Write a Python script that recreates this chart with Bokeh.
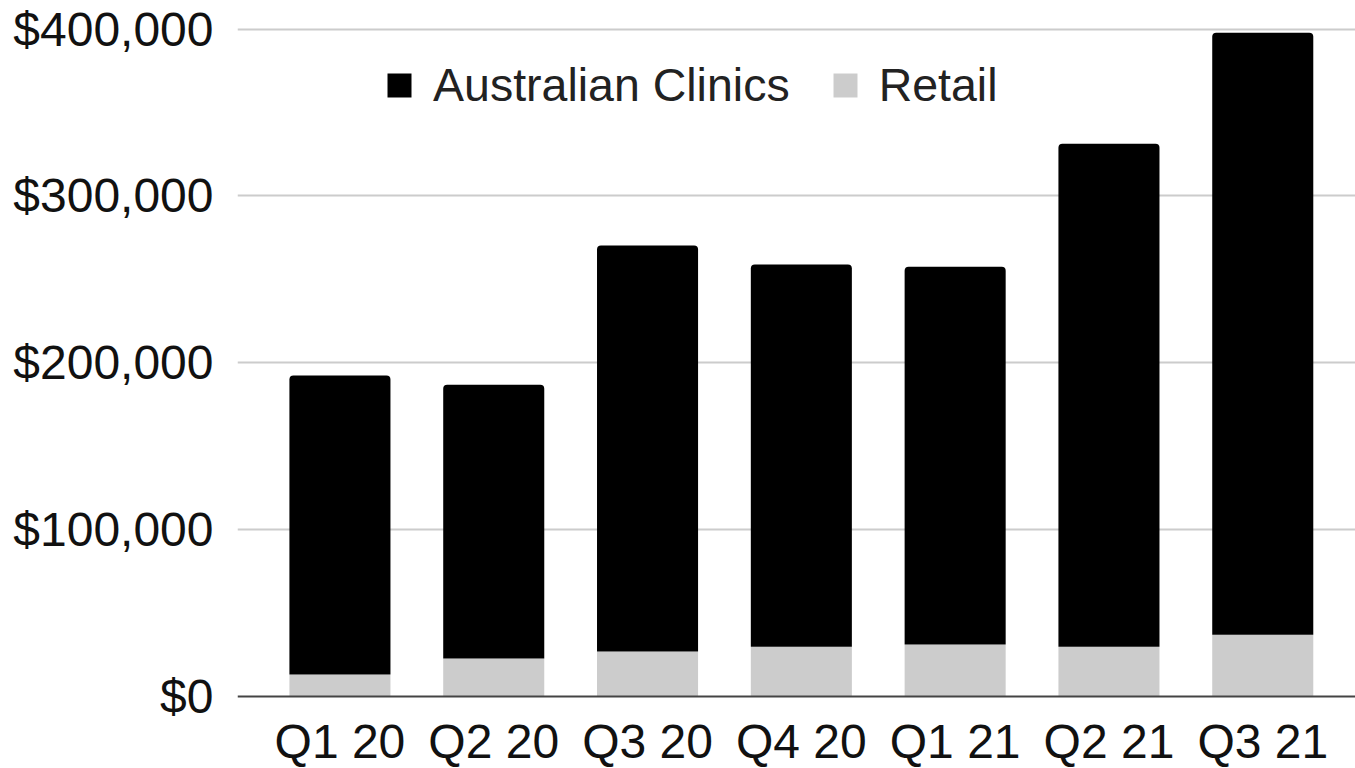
from bokeh.plotting import figure
from bokeh.models import Range1d, FixedTicker, NumeralTickFormatter, Legend, LegendItem, ColumnDataSource
from bokeh.embed import file_html
from bokeh.resources import INLINE

quarters = ["Q1 20", "Q2 20", "Q3 20", "Q4 20", "Q1 21", "Q2 21", "Q3 21"]
retail = [13200, 22800, 27000, 29800, 31200, 29800, 37000]
clinics = [179200, 164000, 243300, 229100, 226300, 301400, 360700]
y_ticks = [0, 100000, 200000, 300000, 400000]

xs = list(range(len(quarters)))
totals = [r + c for r, c in zip(retail, clinics)]
src = ColumnDataSource(dict(x=xs, retail=retail, clinics=clinics, total=totals))

FONT = "Liberation Sans"
TXT = "#111111"

W, H = 1355, 768
LEFT = 237
ZERO_PX = 696          # screen row of y = 0
TOP_PX = 28.5          # screen row of y = 400,000
k = (ZERO_PX - TOP_PX) / 400000.0
y_end = ZERO_PX / k
y_start = -(H - ZERO_PX) / k

p = figure(width=W, height=H, output_backend="svg", toolbar_location=None,
           x_range=Range1d(-0.666, 6.603), y_range=Range1d(y_start, y_end),
           min_border_left=LEFT, min_border_right=0, min_border_top=0, min_border_bottom=0)
p.outline_line_color = None

r_retail = p.vbar(x="x", bottom=0, top="retail", width=0.657, source=src,
                  fill_color="#cccccc", line_color=None)
r_clin = p.vbar(x="x", bottom="retail", top="total", width=0.657, source=src,
                fill_color="#000000", line_color=None, border_radius=(4, 4, 0, 0))

p.xaxis.fixed_location = 0
p.xaxis.ticker = FixedTicker(ticks=xs)
p.xaxis.major_label_overrides = {i: q for i, q in enumerate(quarters)}
p.xaxis.major_tick_line_color = None
p.xaxis.major_tick_out = 0
p.xaxis.major_tick_in = 0
p.xaxis.minor_tick_line_color = None
p.xaxis.axis_line_color = "#444444"
p.xaxis.axis_line_width = 2
p.xaxis.major_label_text_font = FONT
p.xaxis.major_label_text_font_size = "48px"
p.xaxis.major_label_text_color = TXT
p.xaxis.major_label_standoff = 18

p.yaxis.ticker = FixedTicker(ticks=y_ticks)
p.yaxis.formatter = NumeralTickFormatter(format="$0,0")
p.yaxis.major_tick_line_color = None
p.yaxis.major_tick_out = 0
p.yaxis.major_tick_in = 0
p.yaxis.minor_tick_line_color = None
p.yaxis.axis_line_color = None
p.yaxis.major_label_text_font = FONT
p.yaxis.major_label_text_font_size = "48px"
p.yaxis.major_label_text_color = TXT
p.yaxis.major_label_standoff = 24

p.xgrid.grid_line_color = None
p.ygrid.ticker = FixedTicker(ticks=y_ticks[1:])
p.ygrid.grid_line_color = "#cccccc"
p.ygrid.grid_line_width = 2

legend = Legend(items=[LegendItem(label="Australian Clinics", renderers=[r_clin]),
                       LegendItem(label="Retail", renderers=[r_retail])],
                orientation="horizontal", location=(147, 768 - 112),
                glyph_width=30, glyph_height=30, label_standoff=19, spacing=40,
                padding=0, margin=0, border_line_color=None, background_fill_alpha=0,
                label_text_font=FONT, label_text_font_size="46.5px", label_text_color="#222222")
p.add_layout(legend, "center")

open("out.html", "w").write(file_html(p, INLINE))
